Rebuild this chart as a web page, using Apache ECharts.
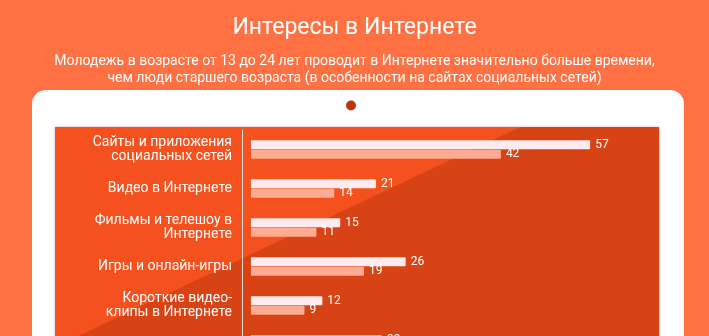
<!DOCTYPE html>
<html>
<head>
<meta charset="utf-8">
<script src="https://cdn.jsdelivr.net/npm/echarts@6/dist/echarts.min.js"></script>
<style>
html,body{margin:0;padding:0;background:#FF7043;}
#c{width:709px;height:336px;}
</style>
</head>
<body>
<div id="c"></div>
<script>
const titleText = 'Интересы в Интернете';
const subtitleText = 'Молодежь в возрасте от 13 до 24 лет проводит в Интернете значительно больше времени,\nчем люди старшего возраста (в особенности на сайтах социальных сетей)';
const categories = [
  'Сайты и приложения\nсоциальных сетей',
  'Видео в Интернете',
  'Фильмы и телешоу в\nИнтернете',
  'Игры и онлайн-игры',
  'Короткие видео-\nклипы в Интернете',
  'Музыка в Интернете'
];
const youngValues = [57, 21, 15, 26, 12, 22];
const olderValues = [42, 14, 11, 19, 9, 16];

const chart = echarts.init(document.getElementById('c'), null, {renderer: 'canvas'});
const font = 'Roboto, "Noto Sans", sans-serif';
chart.setOption({
  backgroundColor: '#FF7043',
  animation: false,
  title: [
    {
      text: titleText, left: 'center', top: 12,
      textStyle: {color: '#ffffff', fontSize: 23, fontWeight: 'normal', fontFamily: font}
    },
    {
      text: subtitleText, left: 'center', top: 48,
      textStyle: {color: '#ffffff', fontSize: 14, lineHeight: 17, fontWeight: 'normal', fontFamily: font}
    }
  ],
  graphic: [
    {type: 'rect', z: 0, shape: {x: 32, y: 90, width: 652, height: 320, r: 14}, style: {fill: '#ffffff'}},
    {type: 'circle', z: 0, shape: {cx: 351, cy: 105.5, r: 5}, style: {fill: '#BF360C'}},
    {type: 'rect', z: 0, shape: {x: 55, y: 127, width: 604, height: 260},
      style: {fill: '#F4511E', shadowBlur: 3, shadowColor: 'rgba(190,40,60,0.35)'}},
    {type: 'polygon', z: 0, shape: {points: [[520, 127], [659, 127], [659, 400], [55, 400], [55, 347]]},
      style: {fill: '#D84315'}}
  ],
  grid: {left: 242, top: 130, width: 366, height: 234, containLabel: false, outerBoundsMode: 'none'},
  xAxis: {type: 'value', min: -1.5, max: 60, show: false},
  yAxis: {
    type: 'category', data: categories, inverse: true,
    axisLine: {show: true, onZero: false, lineStyle: {color: 'rgba(255,235,230,0.9)', width: 1}},
    axisTick: {show: false},
    axisLabel: {color: '#ffffff', fontSize: 14, lineHeight: 14, margin: 10, fontFamily: font}
  },
  series: [
    {
      type: 'bar', data: youngValues, barWidth: 9, barGap: '5%',
      itemStyle: {color: '#FFEBEE', borderRadius: [0, 1, 1, 0]},
      label: {show: true, position: 'right', distance: 5, color: '#ffffff', fontSize: 12, fontFamily: font}
    },
    {
      type: 'bar', data: olderValues, barWidth: 9,
      itemStyle: {color: '#FFAB91', borderRadius: [0, 1, 1, 0]},
      label: {show: true, position: 'right', distance: 5, color: '#ffffff', fontSize: 12, fontFamily: font}
    }
  ]
});
</script>
</body>
</html>
